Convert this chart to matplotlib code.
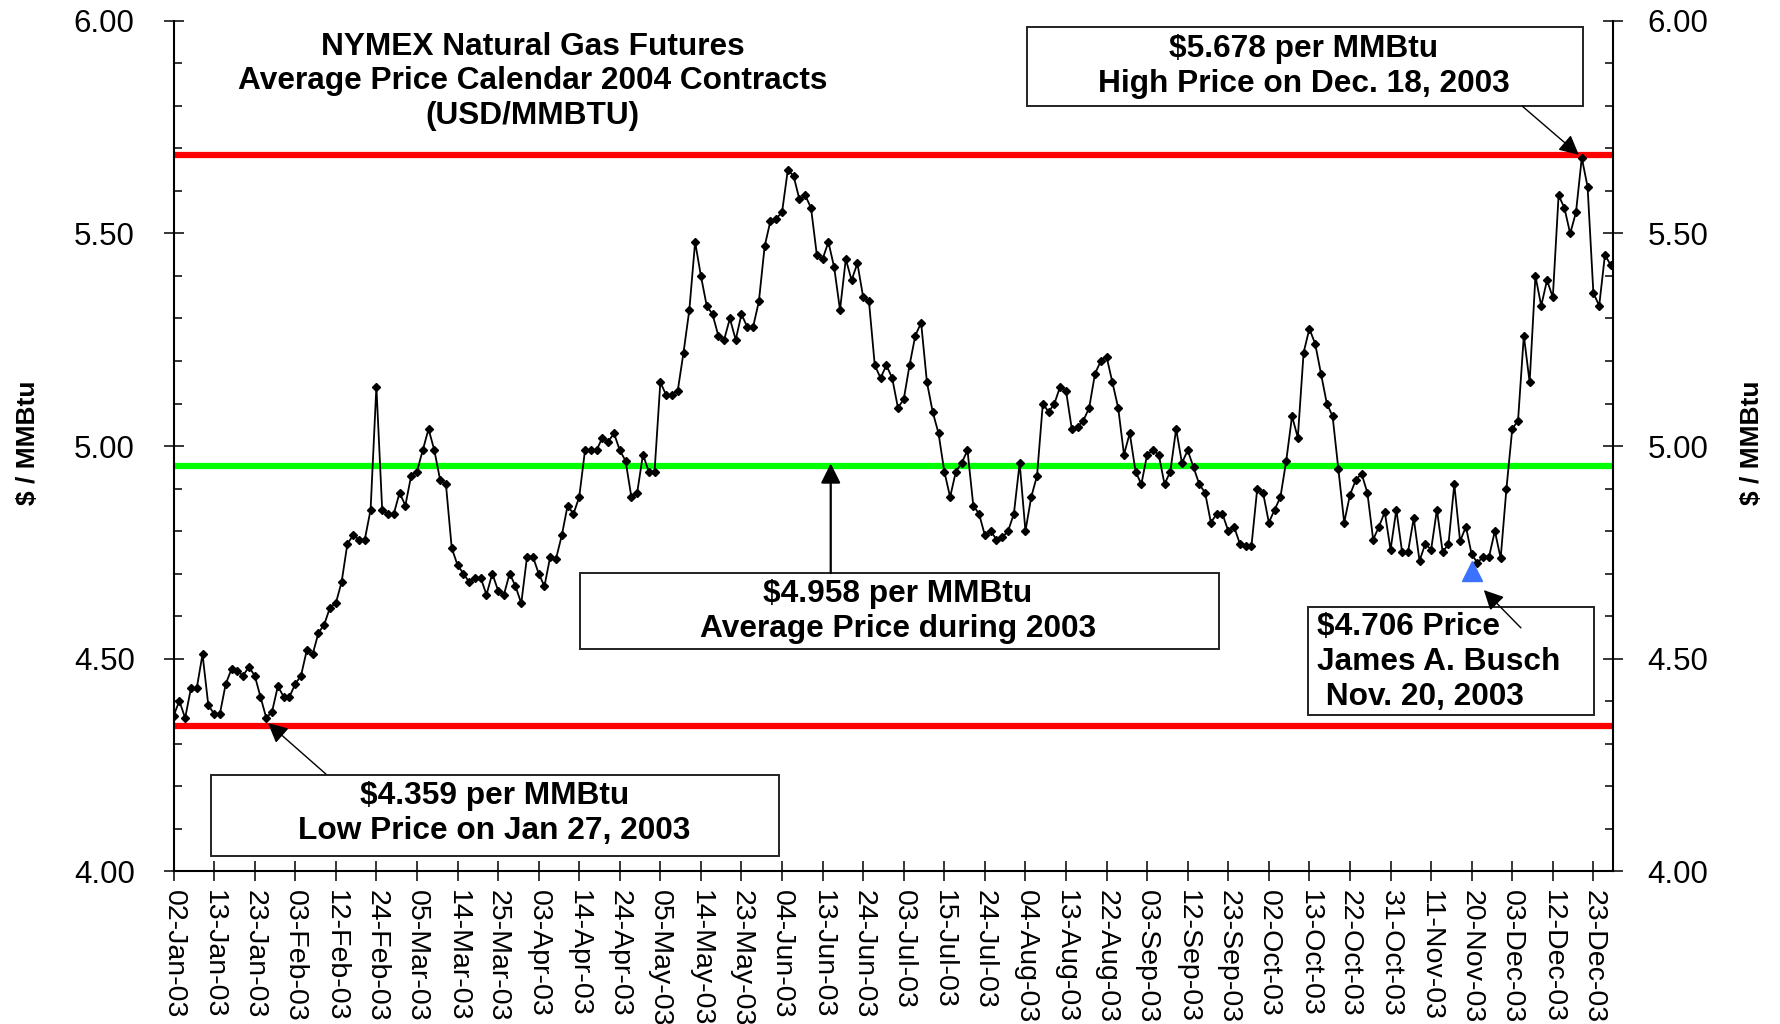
import numpy as np
import matplotlib.pyplot as plt
from matplotlib.patches import Rectangle
from matplotlib.ticker import MultipleLocator

plt.rcParams['font.family'] = ['Liberation Sans', 'DejaVu Sans']

# daily settle, NYMEX calendar-2004 strip average, trading days of 2003
prices = [
    4.365, 4.40, 4.36, 4.43, 4.43, 4.51, 4.39, 4.37, 4.37, 4.44,
    4.475, 4.47, 4.46, 4.48, 4.46, 4.41, 4.36, 4.375, 4.435, 4.41,
    4.41, 4.44, 4.46, 4.52, 4.51, 4.56, 4.58, 4.62, 4.63, 4.68,
    4.77, 4.79, 4.78, 4.78, 4.85, 5.14, 4.85, 4.84, 4.84, 4.89,
    4.86, 4.93, 4.94, 4.99, 5.04, 4.99, 4.92, 4.91, 4.76, 4.72,
    4.70, 4.68, 4.69, 4.69, 4.65, 4.70, 4.66, 4.65, 4.70, 4.67,
    4.63, 4.74, 4.74, 4.70, 4.67, 4.74, 4.735, 4.79, 4.86, 4.84,
    4.88, 4.99, 4.99, 4.99, 5.02, 5.01, 5.03, 4.99, 4.965, 4.88,
    4.89, 4.98, 4.94, 4.94, 5.15, 5.12, 5.12, 5.13, 5.22, 5.32,
    5.48, 5.40, 5.33, 5.31, 5.26, 5.25, 5.30, 5.25, 5.31, 5.28,
    5.28, 5.34, 5.47, 5.53, 5.535, 5.55, 5.65, 5.635, 5.58, 5.59,
    5.56, 5.45, 5.44, 5.48, 5.42, 5.32, 5.44, 5.39, 5.43, 5.35,
    5.34, 5.19, 5.16, 5.19, 5.16, 5.09, 5.11, 5.19, 5.26, 5.29,
    5.15, 5.08, 5.03, 4.94, 4.88, 4.94, 4.96, 4.99, 4.86, 4.84,
    4.79, 4.80, 4.78, 4.785, 4.80, 4.84, 4.96, 4.80, 4.88, 4.93,
    5.10, 5.08, 5.10, 5.14, 5.13, 5.04, 5.045, 5.06, 5.09, 5.17,
    5.20, 5.21, 5.15, 5.09, 4.98, 5.03, 4.94, 4.91, 4.98, 4.99,
    4.98, 4.91, 4.94, 5.04, 4.96, 4.99, 4.95, 4.91, 4.89, 4.82,
    4.84, 4.84, 4.80, 4.81, 4.77, 4.765, 4.765, 4.90, 4.89, 4.82,
    4.85, 4.88, 4.965, 5.07, 5.02, 5.22, 5.276, 5.24, 5.17, 5.10,
    5.07, 4.945, 4.82, 4.885, 4.92, 4.935, 4.89, 4.78, 4.81, 4.845,
    4.756, 4.85, 4.75, 4.75, 4.83, 4.73, 4.77, 4.756, 4.85, 4.75,
    4.77, 4.91, 4.776, 4.81, 4.745, 4.725, 4.74, 4.74, 4.80, 4.736,
    4.90, 5.04, 5.06, 5.26, 5.15, 5.40, 5.33, 5.39, 5.35, 5.59,
    5.56, 5.50, 5.55, 5.678, 5.61, 5.36, 5.33, 5.45, 5.425,
]

tick_labels = [
    '02-Jan-03', '13-Jan-03', '23-Jan-03', '03-Feb-03', '12-Feb-03', '24-Feb-03',
    '05-Mar-03', '14-Mar-03', '25-Mar-03', '03-Apr-03', '14-Apr-03', '24-Apr-03',
    '05-May-03', '14-May-03', '23-May-03', '04-Jun-03', '13-Jun-03', '24-Jun-03',
    '03-Jul-03', '15-Jul-03', '24-Jul-03', '04-Aug-03', '13-Aug-03', '22-Aug-03',
    '03-Sep-03', '12-Sep-03', '23-Sep-03', '02-Oct-03', '13-Oct-03', '22-Oct-03',
    '31-Oct-03', '11-Nov-03', '20-Nov-03', '03-Dec-03', '12-Dec-03', '23-Dec-03',
]

high_line = 5.685
avg_line = 4.953
low_line = 4.342
busch_day = 224
busch_price = 4.706

days = np.arange(len(prices))

fig = plt.figure(figsize=(17.8, 10.24), dpi=100)
ax = fig.add_axes([0.0975, 0.1494, 0.8084, 0.8301])

ax.axhline(high_line, color='#ff0000', lw=4.5, zorder=1)
ax.axhline(low_line, color='#ff0000', lw=4.5, zorder=1)
ax.axhline(avg_line, color='#00ff00', lw=4.5, zorder=1)

ax.plot(days, prices, color='black', lw=1.3, marker='D', ms=4.3, zorder=3)
ax.plot([busch_day], [busch_price], marker='^', color='#3a72ff', ms=15, ls='none', zorder=4)

ax.set_xlim(0, 248.3)
ax.set_ylim(4.0, 6.0)

ax.set_xticks(days[::7])
ax.set_xticklabels(tick_labels, rotation=-90, fontsize=20.5)
ax.set_yticks(np.arange(4.0, 6.01, 0.5))
ax.set_yticklabels(['%.2f' % v for v in np.arange(4.0, 6.01, 0.5)], fontsize=22.5)
ax.yaxis.set_minor_locator(MultipleLocator(0.1))

ax.tick_params(axis='x', direction='inout', length=14, width=1.1, pad=7)
ax.tick_params(axis='y', which='major', direction='inout', length=14, width=1.1, pad=21)
ax.tick_params(axis='y', which='minor', direction='in', length=6, width=1.1)

for s in ['top', 'right']:
    ax.spines[s].set_visible(False)
ax.spines['left'].set_linewidth(1.5)
ax.spines['bottom'].set_linewidth(1.5)

ax2 = ax.twinx()
ax2.set_ylim(4.0, 6.0)
ax2.set_yticks(np.arange(4.0, 6.01, 0.5))
ax2.set_yticklabels(['%.2f' % v for v in np.arange(4.0, 6.01, 0.5)], fontsize=22.5)
ax2.yaxis.set_minor_locator(MultipleLocator(0.1))
ax2.tick_params(axis='y', which='major', direction='inout', length=14, width=1.1, pad=18)
ax2.tick_params(axis='y', which='minor', direction='in', length=6, width=1.1)
for s in ['top', 'left', 'bottom']:
    ax2.spines[s].set_visible(False)
ax2.spines['right'].set_linewidth(1.5)

fig.text(0.0157, 0.5674, '$ / MMBtu', rotation=90, ha='center', va='center',
         fontsize=19, fontweight='bold')
fig.text(0.9843, 0.5674, '$ / MMBtu', rotation=90, ha='center', va='center',
         fontsize=19, fontweight='bold')

# title
ax.text(62, 5.858, 'NYMEX Natural Gas Futures\nAverage Price Calendar 2004 Contracts\n(USD/MMBTU)',
        ha='center', va='center', fontsize=22.8, fontweight='bold', linespacing=1.2, zorder=6)

# annotation boxes
boxes = [
    (6.5, 4.035, 97.9, 0.191),
    (70.1, 4.522, 110.3, 0.179),
    (147.3, 5.80, 95.9, 0.186),
    (195.8, 4.367, 49.3, 0.254),
]
for x0, y0, w, h in boxes:
    ax.add_patch(Rectangle((x0, y0), w, h, facecolor='white', edgecolor='#222222',
                           lw=1.4, zorder=5))

note = dict(fontsize=22.8, fontweight='bold', linespacing=1.2, zorder=6)
ax.text(55.4, 4.135, '$4.359 per MMBtu\nLow Price on Jan 27, 2003', ha='center', va='center', **note)
ax.text(125.0, 4.611, '$4.958 per MMBtu\nAverage Price during 2003', ha='center', va='center', **note)
ax.text(195.0, 5.893, '$5.678 per MMBtu\nHigh Price on Dec. 18, 2003', ha='center', va='center', **note)
ax.text(197.3, 4.492, '$4.706 Price\nJames A. Busch\n Nov. 20, 2003', ha='left', va='center', **note)

arrow = dict(arrowstyle='-|>', color='black', lw=1.0, mutation_scale=30, shrinkA=0, shrinkB=0)
ax.annotate('', xy=(16.3, low_line + 0.006), xytext=(26.3, 4.228), arrowprops=arrow, zorder=6)
ax.annotate('', xy=(113.4, avg_line + 0.006), xytext=(113.4, 4.701),
            arrowprops=dict(arrow, lw=1.6), zorder=6)
ax.annotate('', xy=(242.5, high_line), xytext=(232.7, 5.80), arrowprops=arrow, zorder=6)
ax.annotate('', xy=(226.1, 4.661), xytext=(232.5, 4.572), arrowprops=arrow, zorder=6)

fig.savefig('out.png', dpi=100)
